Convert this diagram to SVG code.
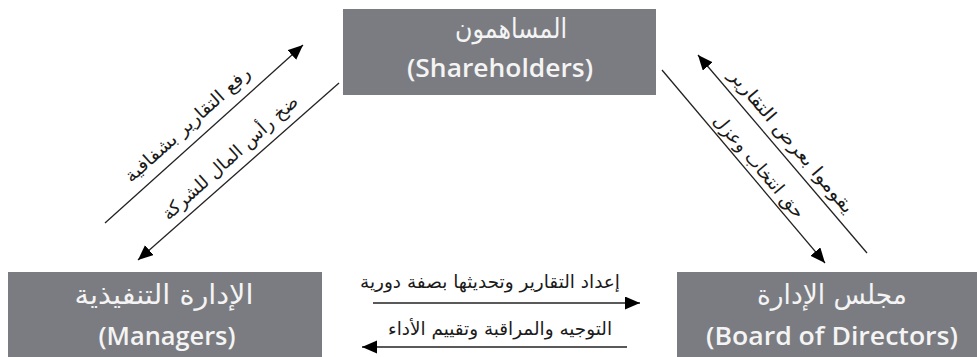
<svg xmlns="http://www.w3.org/2000/svg" width="977" height="357" viewBox="0 0 977 357">
<style>
.box{fill:#7b7c81}
.ar{font-family:"DejaVu Sans","Noto Sans",sans-serif;fill:#f4f4f4;text-anchor:middle;font-size:27px}
.en{font-family:"Open Sans","Noto Sans",sans-serif;fill:#f4f4f4;text-anchor:middle;font-size:26px;font-weight:600}
.lbl{font-family:"DejaVu Sans","Noto Sans",sans-serif;fill:#1a1a1a;text-anchor:middle;font-size:18px}
.ln{stroke:#222;stroke-width:1.3;fill:none;marker-end:url(#ah)}
</style>
<defs>
<marker id="ah" markerWidth="16" markerHeight="14" refX="15" refY="6.5" orient="auto" markerUnits="userSpaceOnUse">
<path d="M0,0 L15,6.5 L0,13 z" fill="#000"/>
</marker>
</defs>
<rect width="977" height="357" fill="#fff"/>
<g id="shareholders">
<rect class="box" x="343" y="9" width="313" height="86"/>
<text class="ar" x="511" y="38" textLength="112" lengthAdjust="spacingAndGlyphs">المساهمون</text>
<text class="en" x="500" y="77" textLength="186" lengthAdjust="spacingAndGlyphs">(Shareholders)</text>
</g>
<g id="managers">
<rect class="box" x="8" y="272" width="314" height="85"/>
<text class="ar" x="164" y="304" textLength="179" lengthAdjust="spacingAndGlyphs">الإدارة التنفيذية</text>
<text class="en" x="167" y="345" textLength="137" lengthAdjust="spacingAndGlyphs">(Managers)</text>
</g>
<g id="board">
<rect class="box" x="677" y="272" width="300" height="85"/>
<text class="ar" x="832" y="304" textLength="150" lengthAdjust="spacingAndGlyphs">مجلس الإدارة</text>
<text class="en" x="832" y="345" textLength="252" lengthAdjust="spacingAndGlyphs">(Board of Directors)</text>
</g>
<g id="connectors">
<line class="ln" x1="105" y1="223" x2="303" y2="45"/>
<line class="ln" x1="339" y1="83" x2="138" y2="260"/>
<line class="ln" x1="662" y1="70" x2="825" y2="263"/>
<line class="ln" x1="867" y1="253" x2="698" y2="55"/>
<line class="ln" x1="373" y1="303" x2="640" y2="303"/>
<line class="ln" x1="627" y1="347" x2="362" y2="347"/>
<text class="lbl" transform="translate(204,134) rotate(-42)" x="-6" y="-12" textLength="162" lengthAdjust="spacingAndGlyphs">رفع التقارير بشفافية</text>
<text class="lbl" transform="translate(238.5,171.5) rotate(-42)" x="3" y="-10" textLength="176" lengthAdjust="spacingAndGlyphs">ضخ رأس المال للشركة</text>
<text class="lbl" transform="translate(782.5,154) rotate(49.7)" x="-4" y="-9" textLength="182" lengthAdjust="spacingAndGlyphs">يقوموا بعرض التقارير</text>
<text class="lbl" transform="translate(743.5,166.5) rotate(49.7)" x="10" y="-6" textLength="130" lengthAdjust="spacingAndGlyphs">حق انتخاب وعزل</text>
<text class="lbl" x="490" y="288" textLength="260" lengthAdjust="spacingAndGlyphs">إعداد التقارير وتحديثها بصفة دورية</text>
<text class="lbl" x="500" y="335" textLength="224" lengthAdjust="spacingAndGlyphs">التوجيه والمراقبة وتقييم الأداء</text>
</g>
</svg>
